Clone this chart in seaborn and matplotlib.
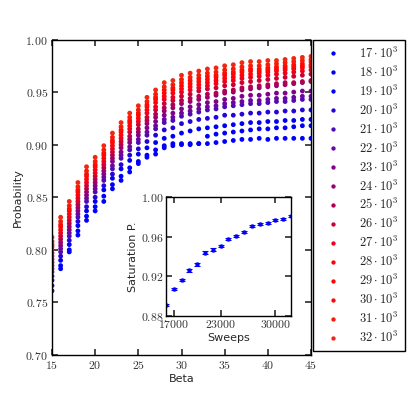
import matplotlib
matplotlib.use("Agg")
import matplotlib.pyplot as plt
import numpy as np
import pandas as pd
import seaborn as sns
from matplotlib.ticker import FuncFormatter, FixedLocator

# ---------------- data ----------------
beta = list(range(15, 46))
sweeps_k = list(range(17, 33))

p17 = [.761, .782, .798, .814, .828, .837, .846, .858, .866, .874, .882, .888, .891, .897, .899, .900,
       .900, .901, .901, .902, .903, .904, .905, .905, .906, .905, .906, .906, .906, .906, .906]
p18 = [.766, .785, .800, .818, .832, .841, .851, .862, .870, .878, .884, .890, .895, .899, .901, .901,
       .901, .901, .908, .910, .911, .912, .913, .914, .915, .915, .916, .916, .917, .918, .918]
p19 = [.771, .790, .805, .823, .837, .846, .857, .868, .877, .885, .891, .897, .902, .906, .908, .911,
       .913, .915, .916, .917, .918, .919, .920, .921, .921, .922, .922, .923, .923, .924, .924]
p20 = [.775, .794, .809, .827, .841, .850, .861, .872, .881, .890, .896, .903, .909, .914, .916, .920,
       .922, .924, .925, .926, .928, .928, .929, .930, .930, .931, .931, .932, .932, .933, .933]
p21 = [.779, .798, .813, .831, .846, .855, .866, .877, .887, .895, .902, .909, .915, .921, .923, .927,
       .929, .931, .933, .934, .936, .937, .938, .939, .939, .940, .941, .941, .942, .943, .943]
p22 = [.782, .801, .816, .834, .849, .858, .869, .880, .890, .898, .905, .912, .918, .924, .926, .930,
       .932, .934, .936, .937, .939, .940, .941, .942, .942, .943, .944, .944, .945, .946, .946]
p23 = [.785, .804, .819, .837, .852, .861, .872, .884, .893, .902, .909, .916, .922, .928, .930, .934,
       .936, .938, .940, .941, .943, .944, .946, .947, .947, .948, .949, .949, .950, .951, .951]
p24 = [.788, .807, .822, .840, .855, .864, .875, .887, .897, .905, .912, .920, .926, .932, .935, .939,
       .941, .943, .945, .947, .949, .950, .952, .953, .954, .955, .956, .957, .958, .959, .960]
p25 = [.791, .810, .825, .843, .858, .867, .878, .890, .900, .908, .915, .923, .929, .935, .938, .942,
       .944, .946, .948, .949, .951, .952, .954, .955, .956, .957, .958, .959, .959, .960, .961]
p26 = [.794, .813, .828, .846, .861, .870, .881, .893, .903, .912, .919, .926, .933, .939, .942, .946,
       .948, .951, .953, .954, .956, .957, .959, .960, .961, .962, .963, .964, .965, .966, .967]
p27 = [.797, .816, .831, .849, .864, .873, .884, .896, .906, .915, .922, .930, .936, .943, .945, .950,
       .952, .954, .956, .958, .960, .961, .963, .964, .965, .966, .967, .968, .969, .970, .971]
p28 = [.800, .819, .834, .852, .867, .876, .887, .899, .909, .918, .925, .933, .940, .946, .949, .953,
       .955, .957, .959, .961, .963, .964, .966, .967, .968, .969, .970, .971, .972, .973, .974]
p29 = [.803, .822, .837, .855, .870, .879, .890, .902, .912, .921, .928, .936, .943, .949, .952, .956,
       .958, .960, .962, .964, .966, .967, .969, .970, .970, .971, .972, .973, .974, .975, .976]
p30 = [.805, .824, .839, .857, .872, .881, .892, .904, .914, .923, .930, .938, .945, .952, .954, .959,
       .961, .963, .965, .966, .968, .969, .971, .972, .972, .973, .974, .975, .976, .977, .979]
p31 = [.808, .827, .842, .860, .875, .884, .895, .907, .917, .926, .933, .941, .948, .955, .957, .962,
       .964, .966, .968, .969, .971, .972, .974, .975, .975, .976, .977, .978, .979, .980, .981]
p32 = [.812, .831, .846, .864, .879, .888, .899, .911, .921, .930, .937, .945, .952, .959, .961, .966,
       .968, .970, .972, .973, .975, .976, .978, .979, .979, .980, .980, .981, .982, .983, .984]
series = [p17, p18, p19, p20, p21, p22, p23, p24, p25, p26, p27, p28, p29, p30, p31, p32]

sat_sweeps = [16000, 17000, 18000, 19000, 20000, 21000, 22000, 23000, 24000,
              25000, 26000, 27000, 28000, 29000, 30000, 31000, 32000]
sat_p = [.891, .907, .916, .926, .932, .944, .947, .951, .958,
         .961, .965, .971, .973, .974, .977, .978, .981]
sat_err = [.0012, .0011, .0012, .0014, .0013, .0011, .0014, .0011, .0012,
           .0012, .0011, .0009, .0010, .0009, .0010, .0009, .0009]

labels = [r"$%d\cdot10^3$" % k for k in sweeps_k]

rows = []
for lab, vals in zip(labels, series):
    for b, v in zip(beta, vals):
        rows.append({"Beta": b, "Probability": v, "Sweeps": lab})
df = pd.DataFrame(rows)

palette = sns.blend_palette(["#0000ff", "#0000f4", "#5a0ab0", "#8a0080",
                             "#c00040", "#ff0010", "#ff0800", "#f02810"], len(labels))

# ---------------- style ----------------
sns.set_theme(style="ticks")
plt.rcParams.update({
    "font.family": ["DejaVu Sans"],
    "mathtext.fontset": "cm",
    "axes.edgecolor": "black",
    "axes.linewidth": 1.0,
    "xtick.direction": "in",
    "ytick.direction": "in",
    "xtick.top": True,
    "ytick.right": True,
    "xtick.major.size": 4,
    "ytick.major.size": 4,
    "xtick.color": "#333333",
    "ytick.color": "#333333",
})

fig = plt.figure(figsize=(4.15, 3.95), dpi=100)
ax = fig.add_axes([0.1253, 0.1013, 0.6241, 0.7987])

sns.scatterplot(data=df, x="Beta", y="Probability", hue="Sweeps", hue_order=labels,
                palette=palette, s=12, linewidth=0, ax=ax, legend=True)

ax.set_xlim(15, 45)
ax.set_ylim(0.70, 1.00)
ax.xaxis.set_major_locator(FixedLocator([15, 20, 25, 30, 35, 40, 45]))
ax.yaxis.set_major_locator(FixedLocator([0.70, 0.75, 0.80, 0.85, 0.90, 0.95, 1.00]))
ax.xaxis.set_major_formatter(FuncFormatter(lambda v, p: "$%d$" % round(v)))
ax.yaxis.set_major_formatter(FuncFormatter(lambda v, p: "$%.2f$" % v))
ax.tick_params(axis="both", labelsize=8.5, pad=3, top=True, right=True)
ax.set_xlabel("Beta", fontsize=8, labelpad=1)
ax.set_ylabel("Probability", fontsize=8, labelpad=2)

handles, labs = ax.get_legend_handles_labels()
ax.get_legend().remove()
leg = fig.legend(handles, labs, loc="upper left",
                 bbox_to_anchor=(313 / 415, 1 - 39.5 / 395), bbox_transform=fig.transFigure,
                 frameon=True, fancybox=False, edgecolor="black", framealpha=1,
                 fontsize=9, labelspacing=0.31, handletextpad=1.0, borderpad=0.5,
                 handlelength=2.2, borderaxespad=0, markerscale=0.9)
leg.get_frame().set_linewidth(1.0)

# ---------------- inset ----------------
ins = fig.add_axes([0.4, 0.2008, 0.3012, 0.2997])
ins.errorbar(sat_sweeps, sat_p, yerr=sat_err, fmt="none", ecolor="#0000ff",
             elinewidth=0.8, capsize=2, capthick=0.8, clip_on=True)
sns.scatterplot(x=sat_sweeps, y=sat_p, color="#0000ff", s=10, linewidth=0, ax=ins)
ins.set_xlim(16000, 32000)
ins.set_ylim(0.88, 1.00)
ins.xaxis.set_major_locator(FixedLocator([17000, 23000, 30000]))
ins.yaxis.set_major_locator(FixedLocator([0.88, 0.92, 0.96, 1.00]))
ins.xaxis.set_major_formatter(FuncFormatter(lambda v, p: "$%d$" % round(v)))
ins.yaxis.set_major_formatter(FuncFormatter(lambda v, p: "$%.2f$" % v))
ins.tick_params(axis="both", labelsize=8.5, pad=2, top=True, right=True)
ins.set_xlabel("Sweeps", fontsize=8, labelpad=1)
ins.set_ylabel("Saturation P.", fontsize=8, labelpad=2)

fig.savefig("out.png", dpi=100)
